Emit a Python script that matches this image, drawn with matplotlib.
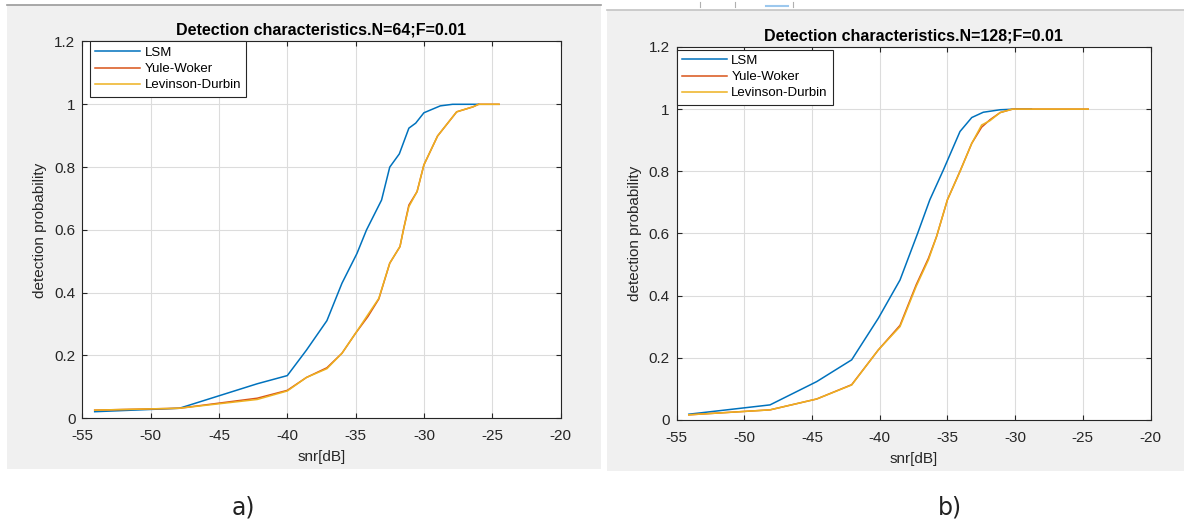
import matplotlib
matplotlib.use("Agg")
import matplotlib.pyplot as plt
from matplotlib.patches import Rectangle
from matplotlib.lines import Line2D

# === DATA ===
# a) N=64
snr_lsm_64 = [-54.1, -47.9, -42.2, -40.0, -38.6, -37.1, -36.0, -34.9, -34.2, -33.1,
              -32.5, -31.8, -31.1, -30.6, -30.0, -28.8, -27.9, -26.0]
pd_lsm_64 = [0.021, 0.032, 0.110, 0.136, 0.217, 0.311, 0.430, 0.525, 0.600, 0.695,
             0.800, 0.842, 0.924, 0.940, 0.973, 0.995, 1.000, 1.000]

snr_ar_64 = [-54.1, -47.9, -42.2, -40.0, -38.6, -37.1, -36.0, -35.0, -34.1, -33.3,
             -32.5, -31.75, -31.5, -31.1, -30.5, -30.0, -29.0, -27.6, -26.4, -26.0, -24.5]
pd_yw_64 = [0.026, 0.032, 0.064, 0.089, 0.130, 0.161, 0.207, 0.271, 0.324, 0.380,
            0.494, 0.547, 0.600, 0.679, 0.722, 0.807, 0.899, 0.976, 0.992, 1.000, 1.000]
pd_ld_64 = [0.026, 0.032, 0.060, 0.087, 0.130, 0.158, 0.207, 0.271, 0.330, 0.382,
            0.494, 0.547, 0.600, 0.674, 0.722, 0.807, 0.899, 0.976, 0.992, 1.000, 1.000]

# b) N=128
snr_lsm_128 = [-54.1, -48.1, -44.65, -42.07, -40.1, -38.5, -37.2, -36.3, -35.3, -34.07,
               -33.2, -32.35, -31.1, -30.0, -28.8]
pd_lsm_128 = [0.018, 0.048, 0.123, 0.193, 0.327, 0.450, 0.600, 0.708, 0.804, 0.928,
              0.973, 0.990, 0.998, 1.000, 1.000]

snr_ar_128 = [-54.1, -48.1, -44.65, -42.07, -40.1, -38.5, -37.3, -36.4, -35.8, -35.0,
              -34.07, -33.2, -32.47, -31.85, -31.1, -30.2, -24.6]
pd_yw_128 = [0.016, 0.032, 0.067, 0.113, 0.225, 0.304, 0.435, 0.520, 0.590, 0.708,
             0.800, 0.890, 0.942, 0.966, 0.989, 1.000, 1.000]
pd_ld_128 = [0.016, 0.032, 0.067, 0.112, 0.225, 0.300, 0.430, 0.515, 0.590, 0.708,
             0.799, 0.890, 0.949, 0.963, 0.989, 1.000, 1.000]

titles = ["Detection characteristics.N=64;F=0.01", "Detection characteristics.N=128;F=0.01"]
panel_tags = ["a)", "b)"]
legend_names = ["LSM", "Yule-Woker", "Levinson-Durbin"]

# MATLAB default colours
c_blue, c_red, c_yel = "#0072BD", "#D95319", "#EDB120"
dark = "#262626"

plt.rcParams["font.family"] = ["Liberation Sans", "DejaVu Sans"]
plt.rcParams["axes.unicode_minus"] = False  # plain hyphen like MATLAB

W, H = 1184, 524
fig = plt.figure(figsize=(W / 100, H / 100), dpi=100)


def px(x0, y0, x1, y1):
    # pixel box (top-left origin) -> figure fraction [l, b, w, h]
    return [x0 / W, 1 - y1 / H, (x1 - x0) / W, (y1 - y0) / H]


# === GRAY FIGURE PANELS ===
for (x0, y0, x1, y1), top_col in [((7, 5, 601, 469), "#9a9a9a"), ((607, 10, 1184, 471), "#c4c4c4")]:
    l, b, w, h = px(x0, y0, x1, y1)
    fig.add_artist(Rectangle((l, b), w, h, transform=fig.transFigure,
                             facecolor="#f0f0f0", edgecolor="none", zorder=0))
    fig.add_artist(Line2D([l, l + w], [b + h, b + h], transform=fig.transFigure,
                          color=top_col, lw=1.2, zorder=1))

# toolbar fragments above right panel
for xx in [700, 735, 793]:
    fig.add_artist(Line2D([xx / W, xx / W], [1 - 2 / H, 1 - 7 / H], transform=fig.transFigure,
                          color="#b0b0b0", lw=0.8))
fig.add_artist(Line2D([766 / W, 788 / W], [1 - 6 / H, 1 - 6 / H], transform=fig.transFigure,
                      color="#9cc8ee", lw=1.5))

# === AXES ===
ax_boxes = [px(82.4, 41.5, 560.5, 418.3), px(676.6, 47.0, 1150.5, 419.8)]
legend_offsets = [(7.5 / 478.1, 1.0), (0.0, 1 - 2.5 / 372.8)]
datasets = [
    (snr_lsm_64, pd_lsm_64, snr_ar_64, pd_yw_64, pd_ld_64),
    (snr_lsm_128, pd_lsm_128, snr_ar_128, pd_yw_128, pd_ld_128),
]

for i, box in enumerate(ax_boxes):
    ax = fig.add_axes(box)
    ax.set_facecolor("white")
    s_lsm, p_lsm, s_ar, p_yw, p_ld = datasets[i]
    ax.plot(s_lsm, p_lsm, color=c_blue, lw=1.1, label=legend_names[0])
    ax.plot(s_ar, p_yw, color=c_red, lw=1.1, label=legend_names[1])
    ax.plot(s_ar, p_ld, color=c_yel, lw=1.1, label=legend_names[2])

    ax.set_xlim(-55, -20)
    ax.set_ylim(0, 1.2)
    ax.set_xticks(range(-55, -19, 5))
    ax.set_yticks([0, 0.2, 0.4, 0.6, 0.8, 1.0, 1.2])
    ax.set_yticklabels(["0", "0.2", "0.4", "0.6", "0.8", "1", "1.2"])
    ax.grid(True, color="#dcdcdc", lw=0.8)
    ax.set_axisbelow(True)
    for sp in ax.spines.values():
        sp.set_color(dark)
        sp.set_linewidth(0.8)
    ax.tick_params(direction="in", length=3.6, width=0.8, top=True, right=True,
                   colors=dark, labelsize=11)
    ax.tick_params(axis="x", pad=8)
    ax.tick_params(axis="y", pad=5)

    ax.set_title(titles[i], fontsize=11.5, fontweight="bold", color="black", pad=5)
    ax.set_xlabel("snr[dB]", fontsize=11, color=dark, labelpad=5)
    ax.set_ylabel("detection probability", fontsize=11, color=dark, labelpad=5)

    leg = ax.legend(loc="upper left", bbox_to_anchor=legend_offsets[i], borderaxespad=0,
                    fontsize=9.5, handlelength=3.4, handletextpad=0.35, labelspacing=0.3,
                    borderpad=0.4, fancybox=False, framealpha=1)
    leg.get_frame().set_edgecolor(dark)
    leg.get_frame().set_linewidth(0.8)

    # panel tag below each figure
    cx = 243 if i == 0 else 950
    fig.text(cx / W, 1 - 507 / H, panel_tags[i], ha="center", va="center", fontsize=17,
             family=["Liberation Sans Narrow", "DejaVu Sans"], color="#222222")

fig.savefig("out.png", dpi=100, facecolor="white")
